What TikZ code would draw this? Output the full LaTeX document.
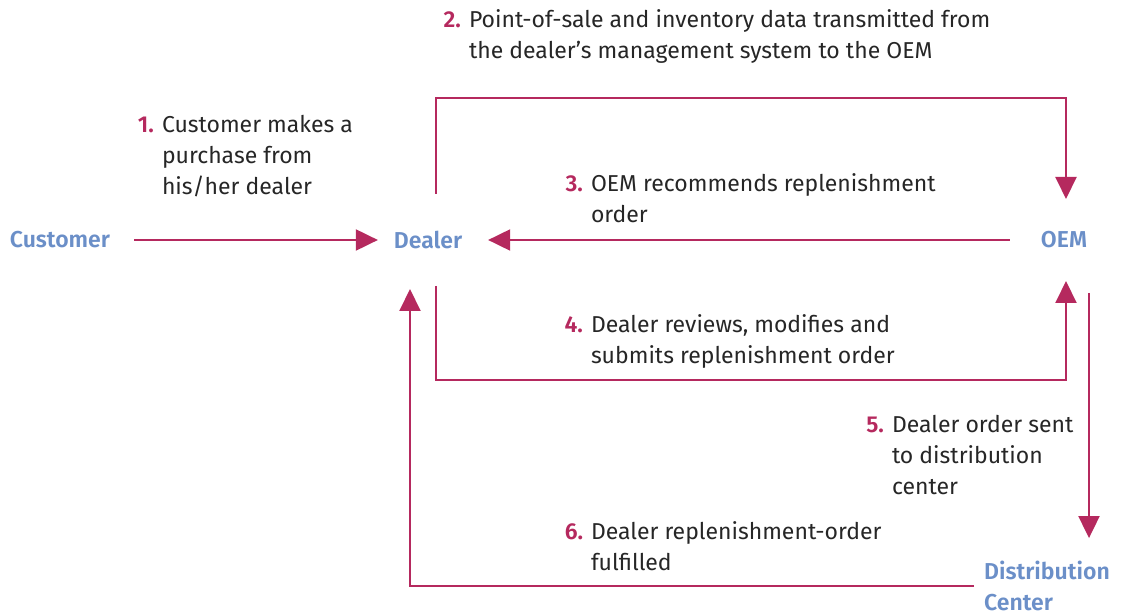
\documentclass[tikz,border=0pt]{standalone}
\usepackage{fontspec}
\setmainfont{Fira Sans}[BoldFont={Fira Sans SemiBold}]
\usetikzlibrary{arrows.meta}
\definecolor{flowred}{HTML}{B5295E}
\definecolor{entblue}{HTML}{6B8FC8}
\begin{document}
\begin{tikzpicture}[x=0.5pt, y=-0.5pt, line width=1pt,
  every node/.style={font=\fontsize{11.5}{15.5}\selectfont},
  entity node/.style={text=entblue, font=\fontsize{11.5}{15.5}\selectfont\bfseries, inner sep=0pt},
  step text/.style={anchor=north west, align=left, inner sep=0pt, text=black!85},
  step num/.style={anchor=north east, inner sep=0pt, xshift=-3pt, text=flowred, font=\fontsize{11.5}{15.5}\selectfont\bfseries},
  flow/.style={draw=flowred, -{Triangle[length=11pt,width=10.5pt]}, color=flowred}]
\useasboundingbox (0,0) rectangle (1125,614);
\begin{scope}[every node/.style={entity node}]
\node (customer) at (60,240) {Customer};
\node [minimum height=45pt] (dealer) at (428,240) {Dealer};
\node [minimum height=40pt] (oem) at (1064,240) {OEM};
\node [align=left] (dist) at (1047,586) {Distribution\\Center};
\end{scope}
% step labels
\node [step text] (s1) at (161,114) {Customer makes a\\purchase from\\his/her dealer};
\node [step text] (s2) at (468,9) {Point-of-sale and inventory data transmitted from\\the dealer’s management system to the OEM};
\node [step text] (s3) at (590,173) {OEM recommends replenishment\\order};
\node [step text] (s4) at (590,314) {Dealer reviews, modifies and\\submits replenishment order};
\node [step text] (s5) at (891,414) {Dealer order sent\\to distribution\\center};
\node [step text] (s6) at (590,521) {Dealer replenishment-order\\fulfilled};
\node [step num] (n1) at (s1.north west) {\vphantom{Cd}1.};
\node [step num] (n2) at (s2.north west) {\vphantom{Cd}2.};
\node [step num] (n3) at (s3.north west) {\vphantom{Cd}3.};
\node [step num] (n4) at (s4.north west) {\vphantom{Cd}4.};
\node [step num] (n5) at (s5.north west) {\vphantom{Cd}5.};
\node [step num] (n6) at (s6.north west) {\vphantom{Cd}6.};
% flows
\path [flow]
	(customer) edge [shorten <=11.5pt, shorten >=7.5pt] (dealer)
	(oem) edge [shorten <=15pt, shorten >=12.5pt] (dealer)
	;
\draw [flow] ([xshift=4pt]dealer.north) -- ++(0,-96) -| ([xshift=1pt]oem.north);
\draw [flow] ([xshift=4pt]dealer.south) -- ++(0,94) -| ([xshift=1pt]oem.south);
\draw [flow, shorten <=6pt, shorten >=11pt] ([xshift=12.5pt]oem.south) -- ([xshift=12.5pt]oem.south |- dist.north);
\draw [flow, shorten <=4.5pt, shorten >=1.5pt] (dist.west) -| ([xshift=-9pt]dealer.south);
\end{tikzpicture}
\end{document}
